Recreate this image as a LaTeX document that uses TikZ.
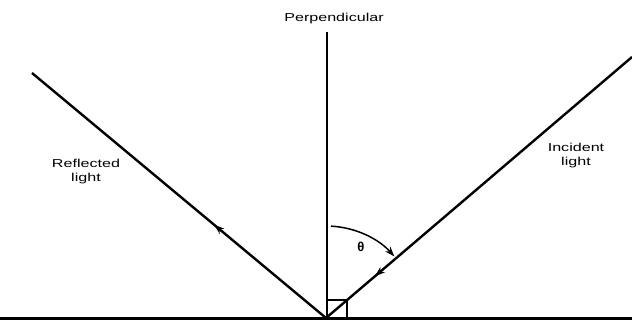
\documentclass[tikz,border=0pt]{standalone}
\usepackage{fontspec}
\setmainfont{Liberation Sans}
\usetikzlibrary{arrows.meta,decorations.markings}
\begin{document}
\begin{tikzpicture}[x=1pt,y=-1pt,
  ray/.style={line width=2.4pt},
  lbl/.style={font=\fontsize{11.5}{13}\selectfont, inner sep=0pt, align=center},
  tip/.style={-{Stealth[length=10pt,width=7pt]}},
  markat/.style={postaction={decorate,decoration={markings,
      mark=at position #1 with {\arrow{Stealth[length=10pt,width=7pt]}}}}}]
\useasboundingbox (0,0) rectangle (632,321);
% points
\coordinate (O) at (326,318);
\coordinate (Ptop) at (327,32);
\coordinate (Pbot) at (327,318);
\coordinate (Rend) at (32,73);
\coordinate (Iend) at (632,57);
\coordinate (Lleft) at (0,318.5);
\coordinate (Lright) at (632,318.5);
% surface
\draw[line width=2.8pt] (Lleft) -- (Lright);
% perpendicular
\draw[ray] (Ptop) -- (Pbot);
% right-angle box
\draw[line width=1.5pt] (327,300) coordinate (B1) -- (347,300) coordinate (B2) -- (347,318) coordinate (B3);
% incident ray with arrow towards the surface
\draw[ray, markat=0.84] (Iend) -- (O);
% reflected ray with arrow away from the surface
\draw[ray, markat=0.38] (O) -- (Rend);
% angle arc
\draw[line width=1.5pt, tip] (O) ++(-87:92) arc[start angle=-87, end angle=-42, radius=92];
% labels
\node[lbl, font=\fontsize{13}{15}\selectfont\bfseries] (theta) at (361,247) {θ};
\node[lbl, anchor=base] (perp) at (334,22) {\scalebox{1.4}[1]{Perpendicular}};
\node[lbl] (refl) at (86,172) {\scalebox{1.4}[1]{Reflected}\\[1pt]\scalebox{1.4}[1]{light}};
\node[lbl] (inc) at (576,156) {\scalebox{1.4}[1]{Incident}\\[1pt]\scalebox{1.4}[1]{light}};
\end{tikzpicture}
\end{document}
